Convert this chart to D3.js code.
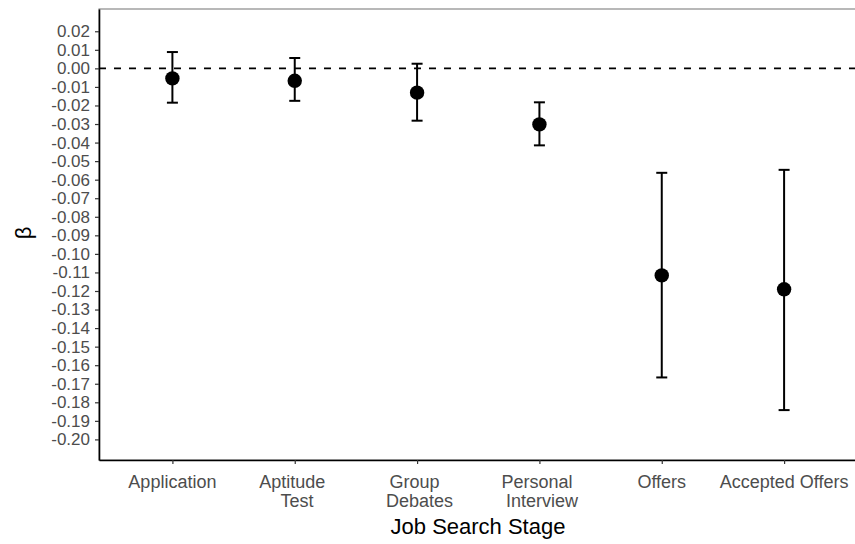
<!DOCTYPE html>
<html>
<head>
<meta charset="utf-8">
<script src="https://cdn.jsdelivr.net/npm/d3@7"></script>
<style>
    body { margin: 0; background: #fff; }
    text { font-family: "Liberation Sans", Arial, sans-serif; }
</style>
</head>
<body>
<svg id="coefPlot" width="855" height="544"></svg>
<script>
// job search stages (tick labels, lines split like the original)
var stages = ["Application", "Aptitude \n Test", "Group \n Debates", "Personal \n Interview", "Offers", "Accepted Offers"];
var beta = [-0.0054, -0.0067, -0.0131, -0.0302, -0.1116, -0.1191];
var lower = [-0.0185, -0.0175, -0.0282, -0.0415, -0.1666, -0.1842];
var upper = [0.0088, 0.0056, 0.0025, -0.0183, -0.0563, -0.0547];
var yTicks = [0.02, 0.01, 0.00, -0.01, -0.02, -0.03, -0.04, -0.05, -0.06, -0.07, -0.08, -0.09, -0.10,
    -0.11, -0.12, -0.13, -0.14, -0.15, -0.16, -0.17, -0.18, -0.19, -0.20];

window.onload = function () {
    drawPlot();
};

function drawPlot() {
    var svg = d3.select("#coefPlot"),
        left = 99, top = 9, right = 857.5, bottom = 460;

    var x = d3.scalePoint()
        .domain(stages)
        .range([left, right])
        .padding(0.6);

    var y = d3.scaleLinear()
        .domain([-0.2111, 0.032])
        .range([bottom, top]);

    var data = stages.map(function (s, i) {
        return {stage: s, beta: beta[i], lo: lower[i], hi: upper[i]};
    });

    // panel frame (top edge visible)
    svg.append("rect")
        .attr("x", left)
        .attr("y", top)
        .attr("width", right - left)
        .attr("height", bottom - top)
        .attr("fill", "none")
        .attr("stroke", "#7f7f7f")
        .attr("stroke-width", 1.1);

    // zero line
    svg.append("line")
        .attr("x1", left)
        .attr("x2", right)
        .attr("y1", y(0))
        .attr("y2", y(0))
        .attr("stroke", "#000")
        .attr("stroke-width", 1.6)
        .attr("stroke-dasharray", "7,8");

    // y axis
    var yAxis = svg.append("g")
        .attr("transform", "translate(" + left + ",0)")
        .call(d3.axisLeft(y).tickValues(yTicks).tickSize(4).tickSizeOuter(0).tickPadding(5)
            .tickFormat(function (d) { return d3.format(".2f")(d).replace("−", "-"); }));
    yAxis.select(".domain").attr("stroke", "#000").attr("stroke-width", 1.6);
    yAxis.selectAll(".tick line").attr("stroke", "#333").attr("stroke-width", 1.2);
    yAxis.selectAll(".tick text")
        .attr("fill", "#4d4d4d")
        .attr("font-size", "17px")
        .attr("font-family", "Liberation Sans, Arial, sans-serif");

    // x axis
    var xAxis = svg.append("g")
        .attr("transform", "translate(0," + bottom + ")")
        .call(d3.axisBottom(x).tickSize(4).tickSizeOuter(0).tickFormat(""));
    xAxis.select(".domain").attr("stroke", "#000").attr("stroke-width", 1.6);
    xAxis.selectAll(".tick line").attr("stroke", "#333").attr("stroke-width", 1.2);

    var labels = svg.append("g")
        .selectAll("text")
        .data(stages)
        .enter().append("text")
        .attr("text-anchor", "middle")
        .attr("fill", "#4d4d4d")
        .attr("font-size", "18px")
        .style("white-space", "pre");
    labels.each(function (d) {
        var t = d3.select(this);
        d.split("\n").forEach(function (line, j) {
            t.append("tspan")
                .attr("x", x(d))
                .attr("y", 488 + j * 19)
                .text(line);
        });
    });

    // error bars
    var bars = svg.append("g")
        .selectAll("g")
        .data(data)
        .enter().append("g")
        .attr("stroke", "#000")
        .attr("stroke-width", 2);

    bars.append("line")
        .attr("x1", function (d) { return x(d.stage); })
        .attr("x2", function (d) { return x(d.stage); })
        .attr("y1", function (d) { return y(d.hi); })
        .attr("y2", function (d) { return y(d.lo); });

    bars.append("line")
        .attr("x1", function (d) { return x(d.stage) - 5.5; })
        .attr("x2", function (d) { return x(d.stage) + 5.5; })
        .attr("y1", function (d) { return y(d.hi); })
        .attr("y2", function (d) { return y(d.hi); });

    bars.append("line")
        .attr("x1", function (d) { return x(d.stage) - 5.5; })
        .attr("x2", function (d) { return x(d.stage) + 5.5; })
        .attr("y1", function (d) { return y(d.lo); })
        .attr("y2", function (d) { return y(d.lo); });

    svg.append("g")
        .selectAll("circle")
        .data(data)
        .enter().append("circle")
        .attr("cx", function (d) { return x(d.stage); })
        .attr("cy", function (d) { return y(d.beta); })
        .attr("r", 7.2)
        .attr("fill", "#000");

    // axis titles
    svg.append("text")
        .attr("x", 478)
        .attr("y", 534)
        .attr("text-anchor", "middle")
        .attr("font-size", "22px")
        .attr("fill", "#000")
        .text("Job Search Stage");

    svg.append("text")
        .attr("transform", "translate(31,233) rotate(-90)")
        .attr("text-anchor", "middle")
        .attr("font-size", "22px")
        .attr("fill", "#000")
        .text("β");
}
</script>
</body>
</html>
